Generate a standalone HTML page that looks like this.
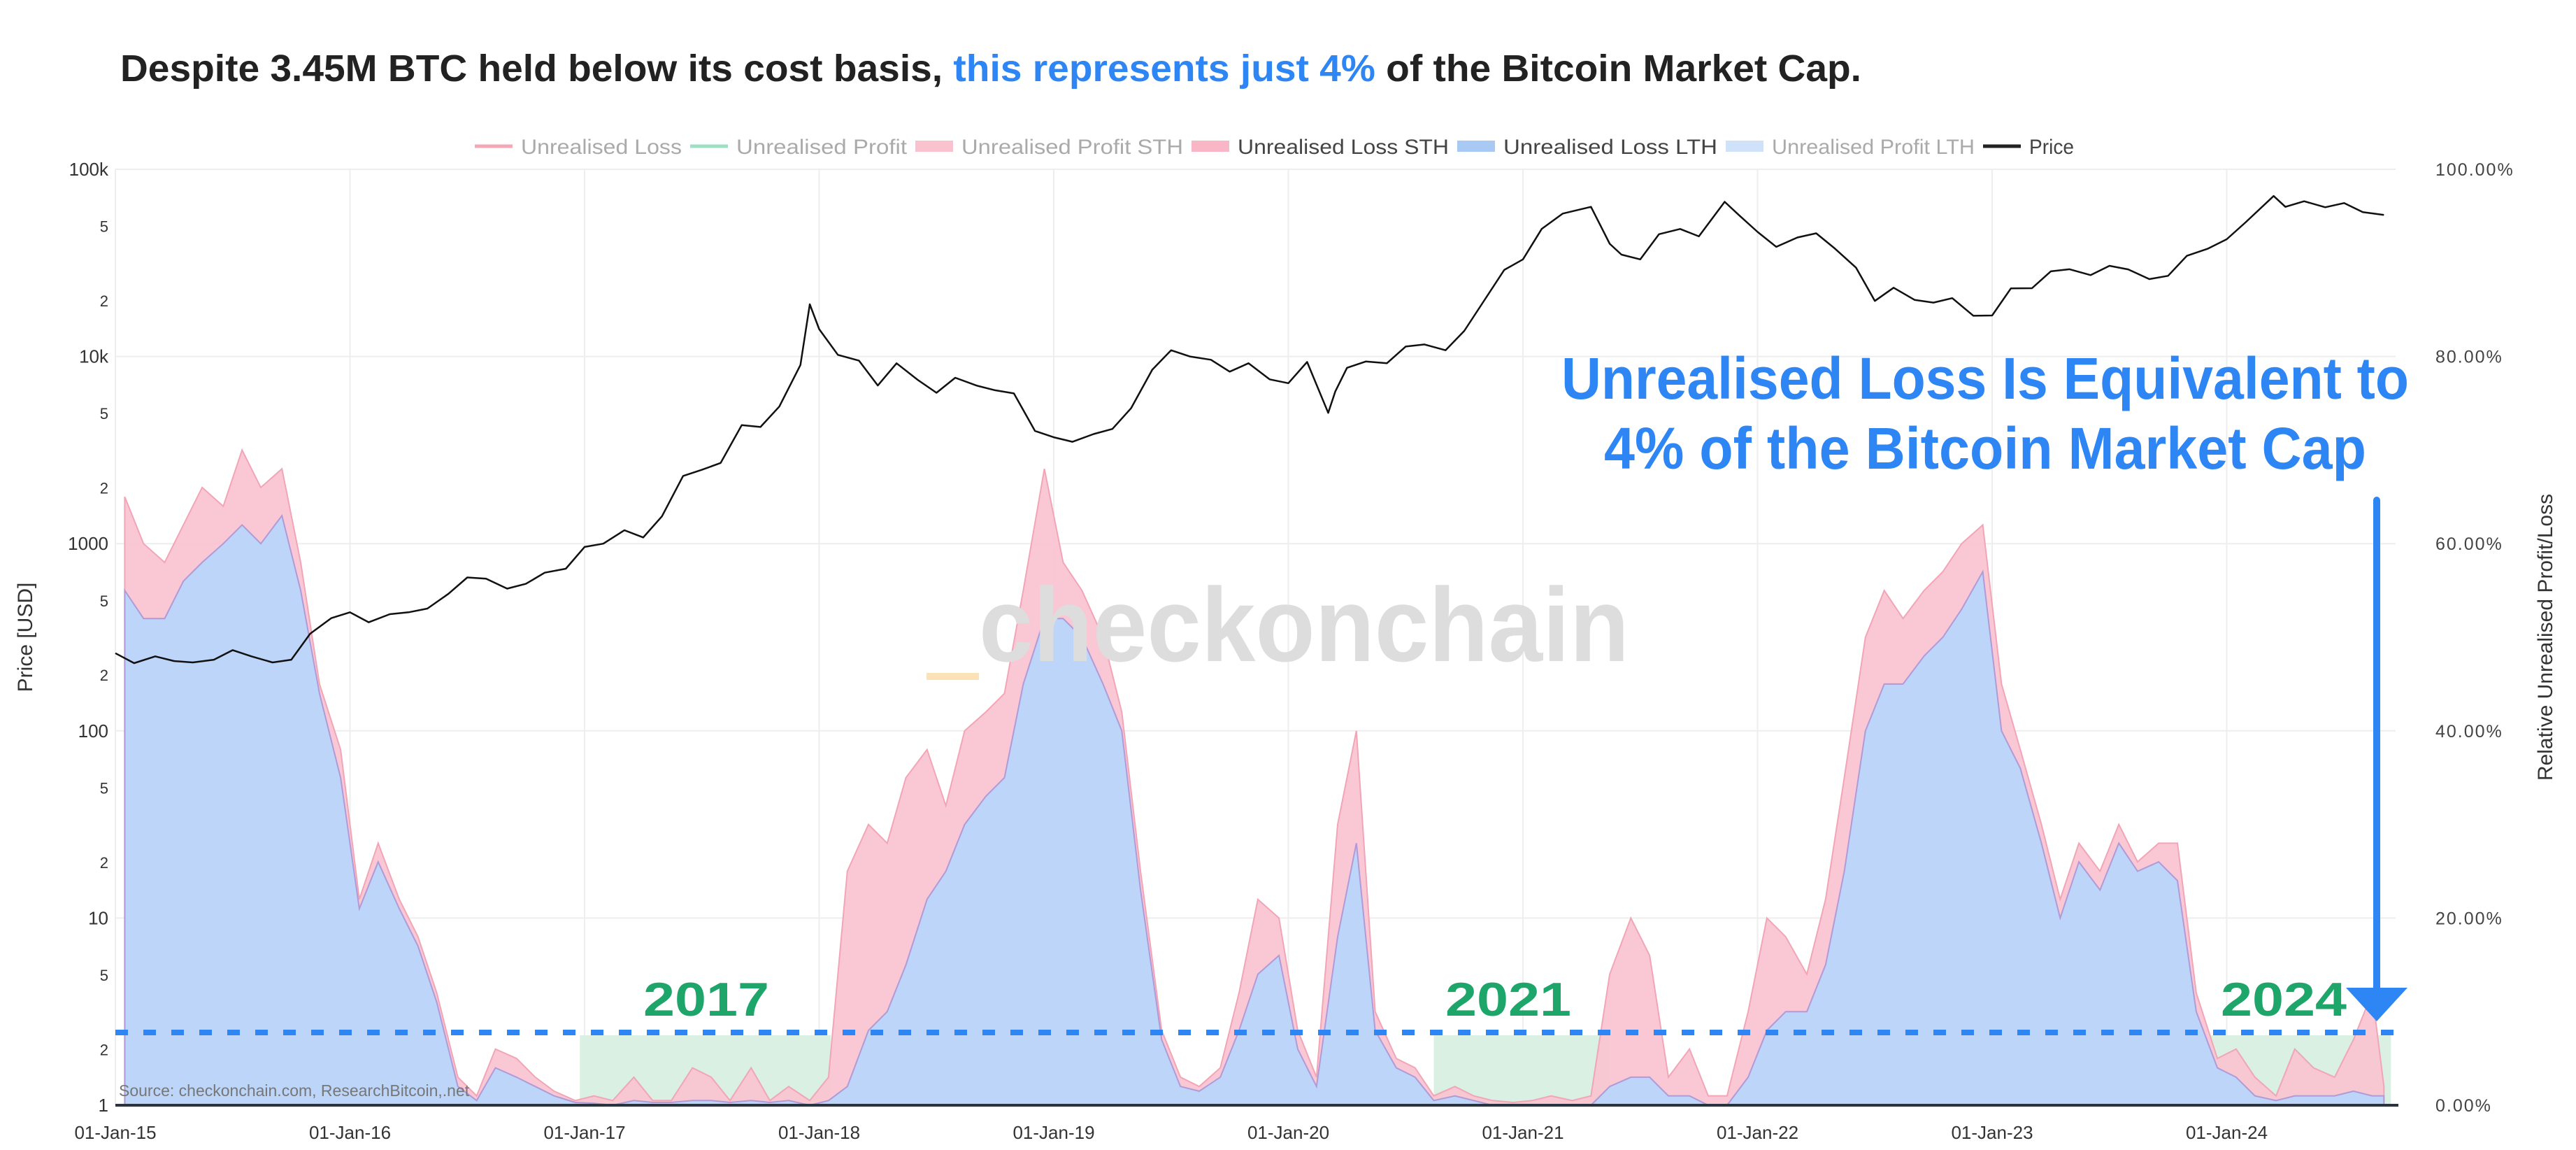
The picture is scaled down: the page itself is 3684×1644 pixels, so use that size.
<!DOCTYPE html>
<html><head><meta charset="utf-8"><style>
html,body{margin:0;padding:0;background:#fff;}
svg{display:block;font-family:"Liberation Sans",sans-serif;}
</style></head><body>
<svg id="chart" width="3684" height="1644" viewBox="0 0 3684 1644" xmlns="http://www.w3.org/2000/svg">
<rect width="3684" height="1644" fill="#fff"/>
<text x="172" y="116" font-size="54" font-weight="bold" fill="#222" textLength="2490" lengthAdjust="spacingAndGlyphs">Despite 3.45M BTC held below its cost basis, <tspan fill="#2e86f5">this represents just 4%</tspan> of the Bitcoin Market Cap.</text>
<g id="grid"></g>
<g id="regions"></g>
<g id="areas"></g>
<text x="1400" y="945" font-size="150" font-weight="bold" fill="#ddd" textLength="930" lengthAdjust="spacingAndGlyphs">checkonchain</text>
<rect x="1325" y="962" width="75" height="10" fill="#fde2b8"/>
<g id="price"></g>
<line x1="165" y1="1580" x2="3430" y2="1580" stroke="#2a3340" stroke-width="4"/>
<g id="axes"></g>
<g id="legend"></g>
<text x="170" y="1567" font-size="23" fill="#777">Source: checkonchain.com, ResearchBitcoin,.net</text>
<line x1="165" y1="1476" x2="3426" y2="1476" stroke="#2e86f5" stroke-width="8" stroke-dasharray="18 22"/>
<text x="920" y="1452" font-size="68" font-weight="bold" fill="#1da56a" textLength="180" lengthAdjust="spacingAndGlyphs">2017</text>
<text x="2067" y="1452" font-size="68" font-weight="bold" fill="#1da56a" textLength="180" lengthAdjust="spacingAndGlyphs">2021</text>
<text x="3176" y="1452" font-size="68" font-weight="bold" fill="#1da56a" textLength="180" lengthAdjust="spacingAndGlyphs">2024</text>
<text x="2233" y="570" font-size="84" font-weight="bold" fill="#2e86f5" textLength="1212" lengthAdjust="spacingAndGlyphs">Unrealised Loss Is Equivalent to</text>
<text x="2294" y="670" font-size="84" font-weight="bold" fill="#2e86f5" textLength="1090" lengthAdjust="spacingAndGlyphs">4% of the Bitcoin Market Cap</text>
<line x1="3399" y1="715" x2="3399" y2="1420" stroke="#2e86f5" stroke-width="10" stroke-linecap="round"/>
<polygon points="3355,1412 3443,1412 3399,1460" fill="#2e86f5"/>
</svg>
<script>
const NS="http://www.w3.org/2000/svg";
const xTickLabels=["01-Jan-15","01-Jan-16","01-Jan-17","01-Jan-18","01-Jan-19","01-Jan-20","01-Jan-21","01-Jan-22","01-Jan-23","01-Jan-24"];
const leftTickValues=[100000,50000,20000,10000,5000,2000,1000,500,200,100,50,20,10,5,2,1];
const leftTickLabels=["100k","5","2","10k","5","2","1000","5","2","100","5","2","10","5","2","1"];
const rightTickValues=[0,20,40,60,80,100];
const rightTickLabels=["0.00%","20.00%","40.00%","60.00%","80.00%","100.00%"];
const priceDates=[2015.0,2015.08,2015.17,2015.25,2015.33,2015.42,2015.5,2015.58,2015.67,2015.75,2015.83,2015.92,2016.0,2016.08,2016.17,2016.25,2016.33,2016.42,2016.5,2016.58,2016.67,2016.75,2016.83,2016.92,2017.0,2017.08,2017.17,2017.25,2017.33,2017.42,2017.5,2017.58,2017.67,2017.75,2017.83,2017.92,2017.96,2018.0,2018.08,2018.17,2018.25,2018.33,2018.42,2018.5,2018.58,2018.67,2018.75,2018.83,2018.92,2019.0,2019.08,2019.17,2019.25,2019.33,2019.42,2019.5,2019.58,2019.67,2019.75,2019.83,2019.92,2020.0,2020.08,2020.17,2020.2,2020.25,2020.33,2020.42,2020.5,2020.58,2020.67,2020.75,2020.83,2020.92,2021.0,2021.08,2021.17,2021.29,2021.37,2021.42,2021.5,2021.58,2021.67,2021.75,2021.86,2021.92,2022.0,2022.08,2022.17,2022.25,2022.33,2022.42,2022.5,2022.58,2022.67,2022.75,2022.83,2022.92,2023.0,2023.08,2023.17,2023.25,2023.33,2023.42,2023.5,2023.58,2023.67,2023.75,2023.83,2023.92,2024.0,2024.08,2024.2,2024.25,2024.33,2024.42,2024.5,2024.58,2024.67];
const priceValues=[260,230,250,236,232,240,270,250,232,240,330,400,430,380,420,430,450,540,660,650,575,610,700,735,960,1000,1180,1080,1400,2300,2480,2700,4300,4200,5400,9000,19000,14000,10200,9500,7000,9200,7500,6400,7700,7000,6600,6350,4000,3700,3500,3850,4100,5300,8500,10800,10000,9600,8300,9200,7550,7200,9350,5000,6500,8700,9400,9200,11300,11600,10800,13700,19500,29000,33000,48000,58000,63000,40000,35000,33000,45000,48000,43800,67000,57000,46300,38500,43200,45500,37700,29800,19800,23300,20050,19400,20500,16500,16550,23100,23150,28500,29250,27200,30500,29200,25900,26970,34500,37700,42300,52000,72000,63000,67500,62700,66000,59000,57000];
const lossMonths=[2015.04,2015.12,2015.21,2015.29,2015.37,2015.46,2015.54,2015.62,2015.71,2015.79,2015.87,2015.96,2016.04,2016.12,2016.21,2016.29,2016.37,2016.46,2016.54,2016.62,2016.71,2016.79,2016.87,2016.96,2017.04,2017.12,2017.21,2017.29,2017.37,2017.46,2017.54,2017.62,2017.71,2017.79,2017.87,2017.96,2018.04,2018.12,2018.21,2018.29,2018.37,2018.46,2018.54,2018.62,2018.71,2018.79,2018.87,2018.96,2019.04,2019.12,2019.21,2019.29,2019.37,2019.46,2019.54,2019.62,2019.71,2019.79,2019.87,2019.96,2020.04,2020.12,2020.21,2020.29,2020.37,2020.46,2020.54,2020.62,2020.71,2020.79,2020.87,2020.96,2021.04,2021.12,2021.21,2021.29,2021.37,2021.46,2021.54,2021.62,2021.71,2021.79,2021.87,2021.96,2022.04,2022.12,2022.21,2022.29,2022.37,2022.46,2022.54,2022.62,2022.71,2022.79,2022.87,2022.96,2023.04,2023.12,2023.21,2023.29,2023.37,2023.46,2023.54,2023.62,2023.71,2023.79,2023.87,2023.96,2024.04,2024.12,2024.21,2024.29,2024.37,2024.46,2024.54,2024.62,2024.67];
const lossLTH=[55,52,52,56,58,60,62,60,63,55,44,35,21,26,21,17,11,2,0.5,4,3,2,1,0.3,0.2,0,0.5,0.3,0.3,0.5,0.5,0.3,0.5,0.3,0.5,0,0.5,2,8,10,15,22,25,30,33,35,45,52,52,50,45,40,23,7,2,1.5,3,8,14,16,6,2,18,28,8,4,3,0.5,1,0.5,0,0,0,0,0,0,2,3,3,1,1,0,0,3,8,10,10,15,25,40,45,45,48,50,53,57,40,36,28,20,26,23,28,25,26,24,10,4,3,1,0.5,1,1,1,1.5,1,1];
const lossSTH=[10,8,6,6,8,4,8,6,5,3,1,3,1,2,1,1,1,1,0.5,2,2,1,0.5,0.2,0.8,0.5,2.5,0.2,0.2,3.5,2.5,0.2,3.5,0.2,1.5,0.5,2.5,23,22,18,20,16,7,10,9,9,10,16,6,5,5,2,2,1,1,0.5,1,4,8,4,2,1,12,12,2,1,1,0.5,1,0.5,0.5,0.3,0.5,1,0.5,1,12,17,13,2,5,1,1,7,12,8,4,7,10,10,10,7,7,7,7,5,5,2,2,2,2,2,2,1,2,4,2,1,3,2,0.5,5,3,2,5.5,11,1];
const X0=165,YR=335.5,Y0=1580,DEC=267.6;
const x=t=>X0+(t-2015)*YR;
const yP=v=>Y0-Math.log10(v)*DEC;
const yR=p=>Y0-p*13.38;
function el(tag,attrs,parent,txt){const e=document.createElementNS(NS,tag);for(const k in attrs)e.setAttribute(k,attrs[k]);if(txt!==undefined)e.textContent=txt;parent.appendChild(e);return e;}
const grid=document.getElementById('grid'),axes=document.getElementById('axes');
xTickLabels.forEach((lab,i)=>{
  const gl=el('line',{x1:x(2015+i),x2:x(2015+i),y1:242,y2:1580,stroke:'#eee','stroke-width':2},grid);
  
  
  const t=el('text',{x:x(2015+i),y:1628,'font-size':26,fill:'#333','text-anchor':'middle'},axes,lab);
  
  
});
rightTickValues.forEach((v,i)=>{
  if(v>0){const gl=el('line',{x1:165,x2:3426,y1:yR(v),y2:yR(v),stroke:'#eee','stroke-width':2},grid);
  
  }
  const t=el('text',{x:3483,y:yR(v)+9,'font-size':25,fill:'#444','letter-spacing':2},axes,rightTickLabels[i]);
  
  
});
leftTickValues.forEach((v,i)=>{
  const big=/k|1000|100$|^10$|^1$/.test(leftTickLabels[i]);
  const t=el('text',{x:155,y:yP(v)+9,'font-size':big?26:22,fill:'#333','text-anchor':'end'},axes,leftTickLabels[i]);
  
  
});
const lt=el('text',{x:46,y:911,'font-size':30,fill:'#333','text-anchor':'middle',transform:'rotate(-90 46 911)'},axes,'Price [USD]');


const rt=el('text',{x:3650,y:911,'font-size':30,fill:'#333','text-anchor':'middle',transform:'rotate(-90 3650 911)'},axes,'Relative Unrealised Profit/Loss');


const regs=document.getElementById('regions');
[[2016.98,2018.05],[2020.62,2021.37],[2023.93,2024.7]].forEach(r=>{
  const rr=el('rect',{x:x(r[0]),y:1480,width:x(r[1])-x(r[0]),height:100,fill:'#d9f0e3'},regs);
  
  
});
const areas=document.getElementById('areas');
function areaPath(tops){let d='M'+x(lossMonths[0])+','+Y0;
  tops.forEach((v,i)=>{d+='L'+x(lossMonths[i]).toFixed(1)+','+yR(v).toFixed(1);});
  d+='L'+x(lossMonths[lossMonths.length-1])+','+Y0+'Z';return d;}
const totals=lossLTH.map((v,i)=>v+lossSTH[i]);
const pa=el('path',{d:areaPath(totals),fill:'#f9c2cf','fill-opacity':0.9,stroke:'#f2a5b6','stroke-width':2},areas);


const ba=el('path',{d:areaPath(lossLTH),fill:'#bcd5f8',stroke:'#b09ad8','stroke-width':2},areas);


let pd='';priceDates.forEach((t,i)=>{pd+=(i?'L':'M')+x(t).toFixed(1)+','+yP(priceValues[i]).toFixed(1);});
const pl=el('path',{d:pd,fill:'none',stroke:'#111','stroke-width':2.5,'stroke-linejoin':'round'},document.getElementById('price'));


const legendNames=["Unrealised Loss","Unrealised Profit","Unrealised Profit STH","Unrealised Loss STH","Unrealised Loss LTH","Unrealised Profit LTH","Price"];
const legendColors=["#f4a7b5","#9ee0c2","#f9c2cf","#f9b6c6","#a9c9f5","#cfe2fa","#222"];
const legendActive=[0,0,0,1,1,0,1];
const legendX=[679,987,1309,1704,2084,2468,2836];
const legendEnd=[975,1297,1692,2072,2456,2824,2966];
const lg=document.getElementById('legend');
legendNames.forEach((n,i)=>{
  const g=el('g',{},lg);
  
  
  if(i===0||i===1||i===6) el('line',{x1:legendX[i],x2:legendX[i]+54,y1:209,y2:209,stroke:legendColors[i],'stroke-width':5},g);
  else el('rect',{x:legendX[i],y:201,width:54,height:16,fill:legendColors[i]},g);
  el('text',{x:legendX[i]+66,y:220,'font-size':30,fill:legendActive[i]?'#444':'#aaa',textLength:legendEnd[i]-legendX[i]-66,lengthAdjust:'spacingAndGlyphs'},g,n);
});
</script>
</body></html>
